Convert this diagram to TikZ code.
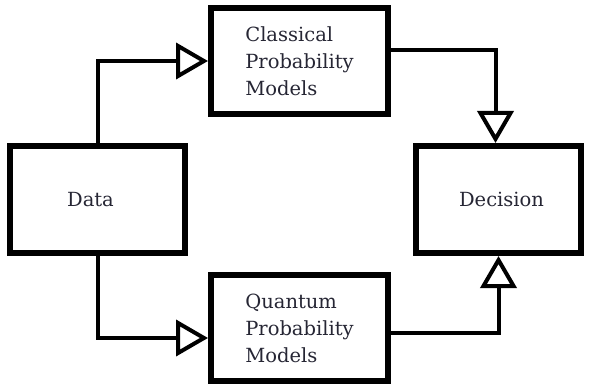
\documentclass[tikz,border=0pt]{standalone}
\usepackage{fontspec}
\setmainfont{DejaVu Serif}
\usepackage{tikz}
\usetikzlibrary{arrows.meta}
\definecolor{textcol}{RGB}{38, 38, 52}

\begin{document}
\begin{tikzpicture}[x=1pt, y=1pt,
    box/.style={draw, line width=6pt, text=textcol, inner sep=0pt,
                font=\fontsize{19.5}{27}\selectfont},
    flow/.style={line width=4pt, -{Triangle[open, length=32pt, width=36pt]}}]
    \useasboundingbox (0,0) rectangle (589,386);
    % input and output
    \node[box, minimum width=175pt, minimum height=107pt] (data) at (97.5,186.5) {Data\hspace*{14pt}};
    \node[box, minimum width=165pt, minimum height=107pt] (decision) at (498.5,186.5) {\hspace*{6pt}Decision};
    % models
    \node[box, align=left, minimum width=177pt, minimum height=106pt] (classical) at (299.5,325)
        {Classical\\Probability\\Models};
    \node[box, align=left, minimum width=177pt, minimum height=106pt] (quantum) at (299.5,58)
        {Quantum\\Probability\\Models};
    % connectors
    \draw[flow] (data.north) |- (classical.west);
    \draw[flow] (data.south) |- ([yshift=-10pt]quantum.west);
    \draw[flow] ([yshift=11pt]classical.east) -| ([xshift=-3pt]decision.north);
    \draw[flow] ([yshift=-5pt]quantum.east) -| (decision.south);
\end{tikzpicture}
\end{document}
